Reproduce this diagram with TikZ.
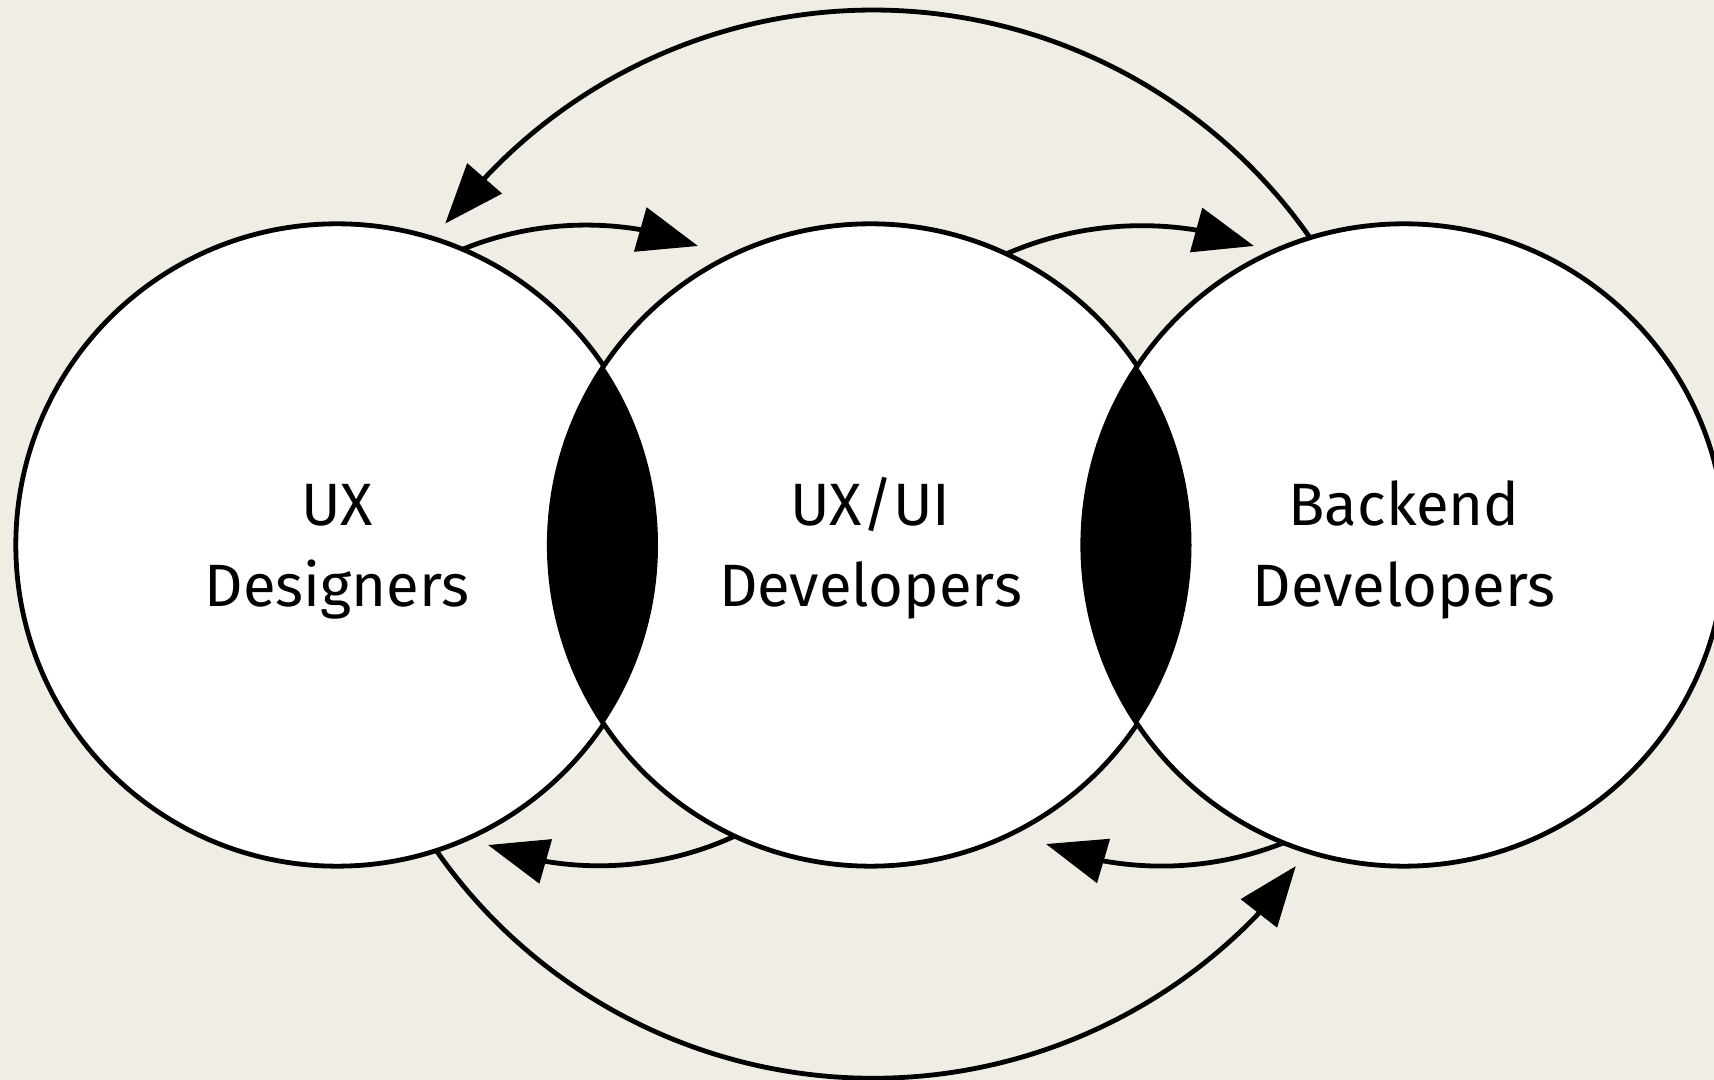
\documentclass[tikz,border=0pt]{standalone}
\usepackage{fontspec}
\setmainfont{Fira Sans}
\usetikzlibrary{arrows.meta}
\definecolor{paper}{RGB}{240,238,228}
\begin{document}
\begin{tikzpicture}[x=0.01cm,y=-0.01cm,
  team/.style={circle, draw=black, fill=white, line width=0.048cm,
    minimum size=6.42cm, inner sep=0pt, outer sep=0pt},
  lbl/.style={align=center, font=\fontsize{17pt}{23.3pt}\selectfont,
    inner sep=0pt, anchor=base},
  flow/.style={line width=0.048cm, -{Triangle[length=0.6cm,width=0.45cm]}}
]
% canvas (y grows downwards, one unit = 0.01cm)
\useasboundingbox (0,0) rectangle (1714,1080);
\fill[paper] (0,0) rectangle (1714,1080);

% the three teams
\node[team] (ux) at (337,545) {};
\node[team] (ui) at (870.5,545) {};
\node[team] (be) at (1404,545) {};

% overlaps
\begin{scope}
  \clip (ux.center) circle[radius=321];
  \fill[black] (ui.center) circle[radius=321];
\end{scope}
\begin{scope}
  \clip (ui.center) circle[radius=321];
  \fill[black] (be.center) circle[radius=321];
\end{scope}

% labels (base = baseline of the last line)
\node[lbl] (uxl) at (337,607) {UX\\Designers};
\node[lbl] (uil) at (870.5,607) {UX/UI\\Developers};
\node[lbl] (bel) at (1404,607) {Backend\\Developers};

% arrow tips
\coordinate (tA) at (698,246);
\coordinate (tB) at (1254,246);
\coordinate (tC) at (445.2,223.6);
\coordinate (tD) at (488,845);
\coordinate (tE) at (1046,844);
\coordinate (tF) at (1295.8,866.1);

% hand-offs between neighbours: circular arcs up to the back of the tip
\draw[flow] (ux.67) arc[start angle=-112.2, end angle=-80.44, radius=327.5] -- (tA);
\draw[flow] (ui.65) arc[start angle=-113.5, end angle=-80.75, radius=340.2] -- (tB);
\draw[flow] (ui.245) arc[start angle=65.3, end angle=99.49, radius=324.8] -- (tD);
\draw[flow] (be.248) arc[start angle=68.37, end angle=100.14, radius=331] -- (tE);

% long loops, concentric with the middle circle
\draw[flow] (be.107.55) arc[start angle=-34.93, end angle=-136.45, radius=533] -- (tC);
\draw[flow] (ux.-72.45) arc[start angle=145.07, end angle=43.5, radius=533] -- (tF);
\end{tikzpicture}
\end{document}
